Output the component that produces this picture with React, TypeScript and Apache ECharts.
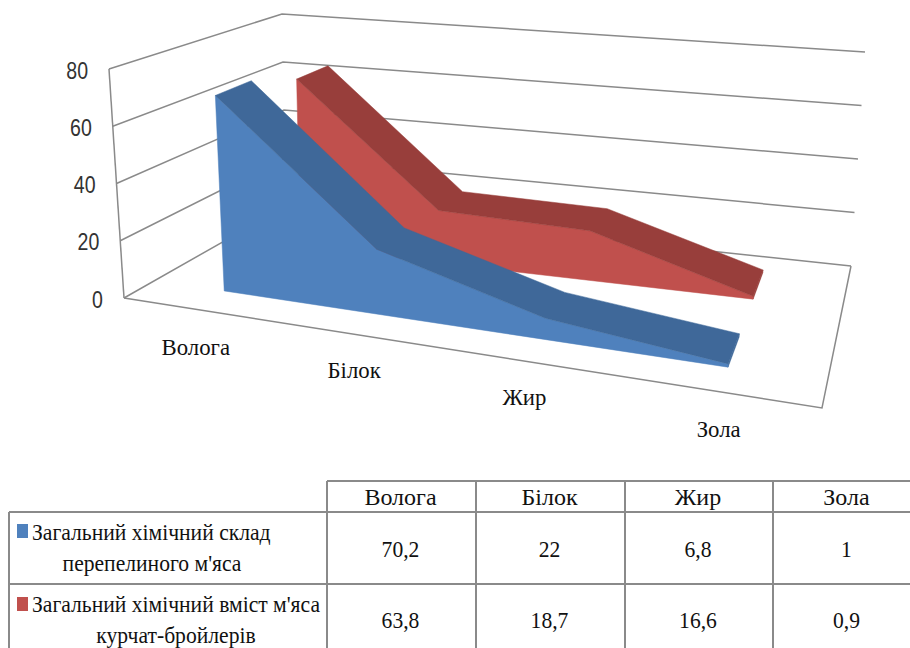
import React, { useEffect, useRef } from "react";
import * as echarts from "echarts";

const categories = ["Волога", "Білок", "Жир", "Зола"];
const quail = [70.2, 22, 6.8, 1];
const broiler = [63.8, 18.7, 16.6, 0.9];
const yTicks = [0, 20, 40, 60, 80];
const quailLines = ["Загальний хімічний склад", "перепелиного м'яса"];
const broilerLines = ["Загальний хімічний вміст м'яса", "курчат-бройлерів"];
const rowValues = ["70,2", "22", "6,8", "1"];
const rowValues2 = ["63,8", "18,7", "16,6", "0,9"];

const W = 910;
const H = 648;
const GRID = "#8a8a8a";
const SERIF = "'Liberation Serif', serif";
const SANS = "'Liberation Sans', sans-serif";

type Pt = number[];

// Perspective map of the unit square onto a four-cornered floor.
function quadMap(p00: Pt, p10: Pt, p11: Pt, p01: Pt) {
  const dx1 = p10[0] - p11[0], dx2 = p01[0] - p11[0], sx = p00[0] - p10[0] + p11[0] - p01[0];
  const dy1 = p10[1] - p11[1], dy2 = p01[1] - p11[1], sy = p00[1] - p10[1] + p11[1] - p01[1];
  const det = dx1 * dy2 - dx2 * dy1;
  const g = (sx * dy2 - dx2 * sy) / det;
  const h = (dx1 * sy - sx * dy1) / det;
  const a = p10[0] - p00[0] + g * p10[0], b = p01[0] - p00[0] + h * p01[0], c = p00[0];
  const d = p10[1] - p00[1] + g * p10[1], e = p01[1] - p00[1] + h * p01[1], f = p00[1];
  return (u: number, v: number): Pt => {
    const den = g * u + h * v + 1;
    return [(a * u + b * v + c) / den, (d * u + e * v + f) / den];
  };
}

// Height vector over the floor, blended from its four corner values.
const blendRise = (rise: Pt[], u: number, v: number, k: number) =>
  (1 - v) * ((1 - u) * rise[0][k] + u * rise[1][k]) + v * ((1 - u) * rise[3][k] + u * rise[2][k]);

function boxMap(floor: Pt[], rise: Pt[]) {
  const map = quadMap(floor[0], floor[1], floor[2], floor[3]);
  return (u: number, v: number, w: number): Pt => {
    const base = map(u, v);
    return [base[0] + w * blendRise(rise, u, v, 0), base[1] + w * blendRise(rise, u, v, 1)];
  };
}

// The area slabs foreshorten more gently along the category axis than the frame does.
function slabMap(floor: Pt[], rise: Pt[], g: number) {
  return (u: number, v: number, w: number): Pt => {
    const t = (u * (1 + g)) / (1 + g * u);
    const mix = (k: number) =>
      (1 - v) * ((1 - t) * floor[0][k] + t * floor[1][k]) + v * ((1 - t) * floor[3][k] + t * floor[2][k]);
    return [mix(0) + w * blendRise(rise, u, v, 0), mix(1) + w * blendRise(rise, u, v, 1)];
  };
}

const wallBox = boxMap(
  [[124, 298], [822, 408], [851, 266], [286, 206]],
  [[-15, -229], [10, -265], [14, -214], [-4, -192]],
);
const slabBox = slabMap(
  [[152, 280], [826, 382], [847, 281], [268, 224]],
  [[-13, -216], [10, -270], [14, -255], [-5, -199]],
  -0.16,
);

const QUAIL_DEPTH = [0, 0.32];
const BROILER_DEPTH = [0.72, 1];
const LABEL_NUDGE = [4, 13, 12, 8];

function App() {
  const ref = useRef<HTMLDivElement>(null);

  useEffect(() => {
    const chart = echarts.init(ref.current!, undefined, { renderer: "svg" });

    const toUnit = (api: any, cat: number, val: number) => {
      const p = api.coord([cat, val]);
      return [p[0] / W, 1 - p[1] / H];
    };

    const areaSeries = (name: string, values: number[], depth: number[], front: string, top: string) => ({
      type: "custom",
      name,
      coordinateSystem: "cartesian2d",
      data: values.map((v, i) => [i, v]),
      encode: { x: 0, y: 1 },
      z: depth[0] === 0 ? 4 : 3,
      renderItem: (params: any, api: any) => {
        if (params.dataIndex !== 0) return null;
        const pts = values.map((v, i) => toUnit(api, i, v));
        const [vf, vb] = depth;
        const frontEdge = pts.map(([u, w]) => slabBox(u, vf, w));
        const backEdge = pts.map(([u, w]) => slabBox(u, vb, w));
        const u0 = pts[0][0];
        const uN = pts[pts.length - 1][0];
        const faceStyle = (fill: string) => ({ fill, stroke: fill, lineWidth: 0.5 });
        const children: any[] = [];
        // end cap on the right
        children.push({
          type: "polygon",
          shape: { points: [frontEdge[frontEdge.length - 1], backEdge[backEdge.length - 1], slabBox(uN, vb, 0), slabBox(uN, vf, 0)] },
          style: faceStyle(top),
        });
        children.push({
          type: "polygon",
          shape: { points: [slabBox(u0, vf, 0), ...frontEdge, slabBox(uN, vf, 0)] },
          style: faceStyle(front),
        });
        children.push({
          type: "polygon",
          shape: { points: [...frontEdge, ...backEdge.slice().reverse()] },
          style: faceStyle(top),
        });
        return { type: "group", children };
      },
    });

    const option: any = {
      animation: false,
      grid: { left: 0, top: 0, width: W, height: H },
      xAxis: { type: "category", data: categories, show: false, boundaryGap: true },
      yAxis: { type: "value", min: 0, max: 80, interval: 20, show: false },
      series: [
        {
          // Wall lines, floor outline and value labels
          type: "custom",
          coordinateSystem: "cartesian2d",
          data: yTicks.map((t) => [0, t]),
          encode: { x: 0, y: 1 },
          z: 1,
          renderItem: (params: any, api: any) => {
            const tick = yTicks[params.dataIndex];
            const [, w] = toUnit(api, 0, tick);
            const lineStyle = { stroke: GRID, lineWidth: 1.5, fill: "none" };
            const a = wallBox(0, 0, w);
            const children: any[] = [
              {
                type: "polyline",
                shape: { points: [a, wallBox(0, 1, w), wallBox(1, 1, w)] },
                style: lineStyle,
              },
              {
                type: "text",
                x: a[0] - 21,
                y: a[1] + 2,
                scaleX: 0.85,
                style: { text: String(tick), x: 0, y: 0, align: "right", verticalAlign: "middle", font: `23px ${SANS}`, fill: "#333" },
              },
            ];
            if (tick === 0) {
              children.push({
                type: "polyline",
                shape: { points: [a, wallBox(1, 0, 0), wallBox(1, 1, 0)] },
                style: lineStyle,
              });
              children.push({
                type: "line",
                shape: { x1: a[0], y1: a[1], x2: wallBox(0, 0, 1)[0], y2: wallBox(0, 0, 1)[1] },
                style: lineStyle,
              });
            }
            return { type: "group", children };
          },
        },
        areaSeries("Загальний хімічний вміст м'яса курчат-бройлерів", broiler, BROILER_DEPTH, "#C0504D", "#983E3B"),
        areaSeries("Загальний хімічний склад перепелиного м'яса", quail, QUAIL_DEPTH, "#4F81BD", "#3F6899"),
        {
          // Category names along the front floor edge
          type: "custom",
          coordinateSystem: "cartesian2d",
          data: categories.map((_, i) => [i, 0]),
          encode: { x: 0, y: 1 },
          z: 5,
          renderItem: (params: any, api: any) => {
            const [u] = toUnit(api, params.dataIndex, 0);
            const p = wallBox(u, 0, 0);
            return {
              type: "text",
              x: p[0] + LABEL_NUDGE[params.dataIndex],
              y: p[1] + 38,
              scaleX: 0.95,
              style: {
                text: categories[params.dataIndex],
                x: 0, y: 0, align: "center", verticalAlign: "middle",
                font: `24px ${SERIF}`, fill: "#111",
              },
            };
          },
        },
      ],
      graphic: buildTable(),
    };

    chart.setOption(option);
    return () => chart.dispose();
  }, []);

  return <div ref={ref} style={{ position: "absolute", left: 0, top: 0, width: W, height: H }} />;
}

// The data table under the plot, with its legend keys.
function buildTable() {
  const cols = [327, 476, 625, 773, 922];
  const rows = [481, 512, 584];
  const line = (x1: number, y1: number, x2: number, y2: number) => ({
    type: "line",
    shape: { x1, y1, x2, y2 },
    style: { stroke: GRID, lineWidth: 2 },
    z: 10,
  });
  const text = (s: string, x: number, y: number, align = "center", scaleX = 0.9) => ({
    type: "text",
    x,
    y,
    scaleX,
    z: 11,
    style: { text: s, x: 0, y: 0, align, verticalAlign: "middle", font: `24px ${SERIF}`, fill: "#111" },
  });
  const els: any[] = [
    line(cols[0], rows[0], W, rows[0]),
    line(9, rows[1], W, rows[1]),
    line(9, rows[2], W, rows[2]),
    line(9, rows[1], 9, H),
  ];
  cols.slice(0, 4).forEach((x) => els.push(line(x, rows[0], x, H)));
  categories.forEach((c, i) => {
    const cx = (cols[i] + cols[i + 1]) / 2 - 1;
    els.push(text(c, cx, 497, "center", 1));
    els.push(text(rowValues[i], cx, 549));
    els.push(text(rowValues2[i], cx, 620));
  });
  els.push({ type: "rect", z: 11, shape: { x: 17, y: 524, width: 11, height: 14 }, style: { fill: "#4F81BD" } });
  els.push({ type: "rect", z: 11, shape: { x: 17, y: 597, width: 11, height: 14 }, style: { fill: "#C0504D" } });
  els.push(text(quailLines[0], 32, 532, "left"));
  els.push(text(quailLines[1], 152, 563));
  els.push(text(broilerLines[0], 32, 604, "left"));
  els.push(text(broilerLines[1], 176, 635));
  return els;
}

export default App;
